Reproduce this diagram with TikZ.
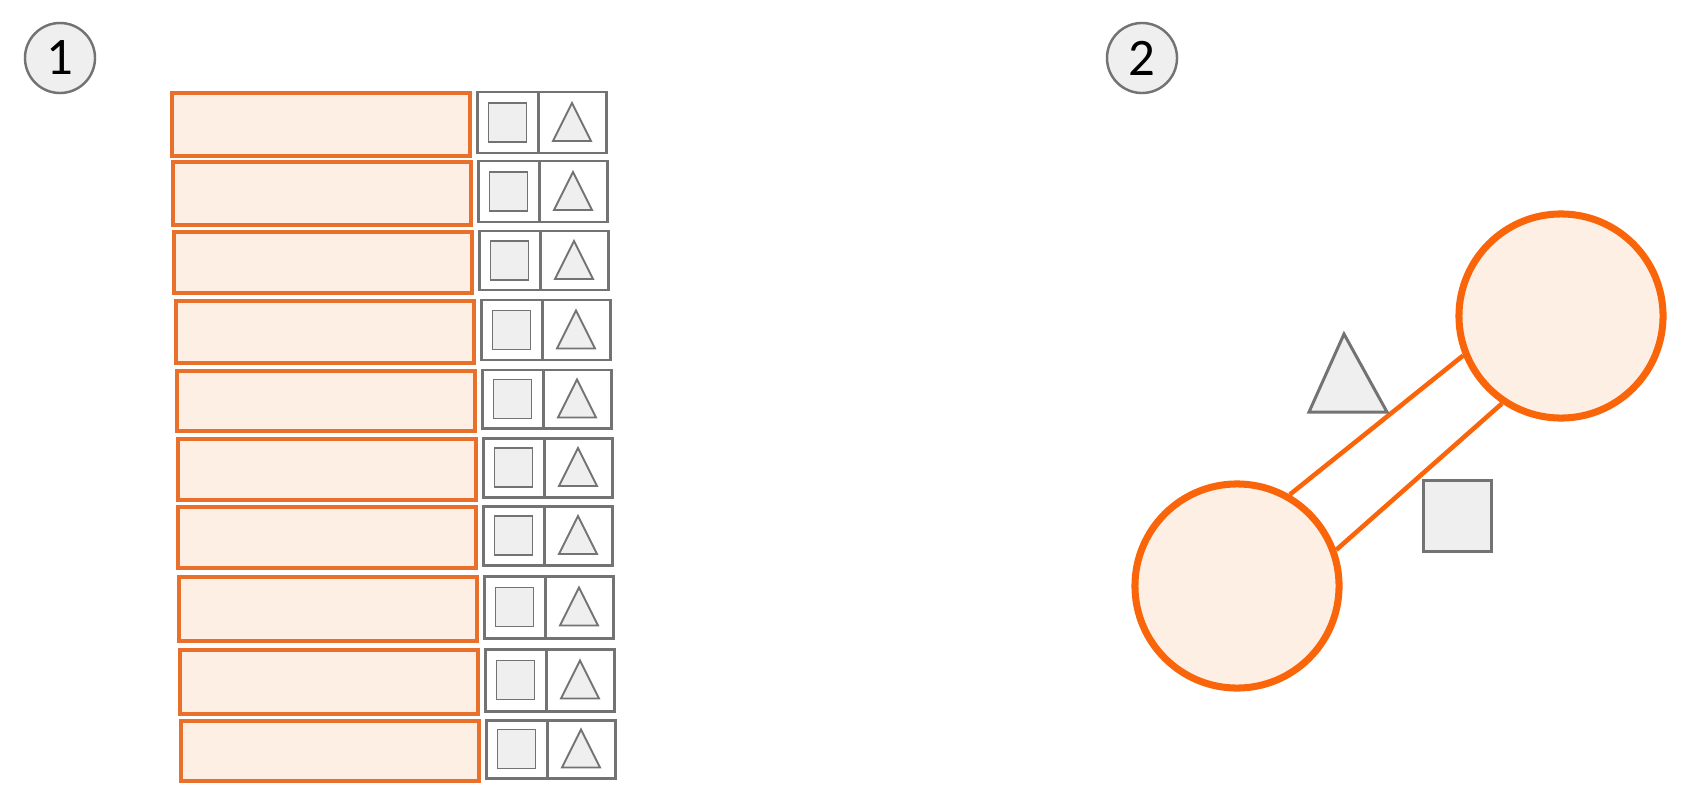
\documentclass[tikz,border=0pt]{standalone}
\usepackage{fontspec}
\setmainfont{Carlito}
\definecolor{rowline}{HTML}{E8702A}
\definecolor{ringline}{HTML}{FA650A}
\definecolor{peach}{HTML}{FEEFE4}
\definecolor{greyline}{HTML}{737373}
\definecolor{greyfill}{HTML}{EFEFEF}

\begin{document}
\begin{tikzpicture}[x=0.01cm, y=-0.01cm,
    badge/.style={draw=greyline, fill=greyfill, circle, line width=0.7pt, minimum size=0.7cm, inner sep=0pt, font=\fontsize{15}{18}\selectfont},
    rowbox/.style={draw=rowline, fill=peach, line width=0.95pt},
    cellbox/.style={draw=greyline, fill=white, line width=0.85pt},
    markbox/.style={draw=greyline, fill=greyfill, line width=0.55pt},
    bead/.style={draw=ringline, fill=peach, circle, line width=2pt, minimum size=2.04cm, inner sep=0pt},
    link/.style={draw=ringline, line width=1.3pt}]
    \useasboundingbox (0,0) rectangle (1700,800);
    \node[badge] (one) at (60,58) {1};
    \node[badge] (two) at (1142,58) {2};
    \foreach \x/\t/\h in {172/93/63, 173/162/63, 174/232/61, 176/301/62, 177/371/60,
                          178/439/61, 178/507/61, 179/577/64, 180/650/64, 181/721/60} {
        \draw[rowbox] (\x,\t) rectangle +(298,\h);
        \draw[cellbox] (\x+305,\t-1) rectangle +(61,\h-2);
        \draw[cellbox] (\x+366,\t-1) rectangle +(68,\h-2);
        \draw[markbox] (\x+316.5,\t+\h/2-21.5) rectangle +(38,39);
        \draw[markbox] (\x+400,\t+\h/2-21.5) -- ++(19,38) -- ++(-38,0) -- cycle;
    }
    \node[bead] (low) at (1237,586) {};
    \node[bead] (high) at (1561,316) {};
    \draw[link] (low.60) -- (high.202);
    \draw[link] (low.20) -- (high.236);
    \draw[markbox, line width=0.85pt] (1344,334) -- (1387,412) -- (1309,412) -- cycle;
    \draw[markbox, line width=0.85pt] (1423,480) rectangle (1491,551);
\end{tikzpicture}
\end{document}
